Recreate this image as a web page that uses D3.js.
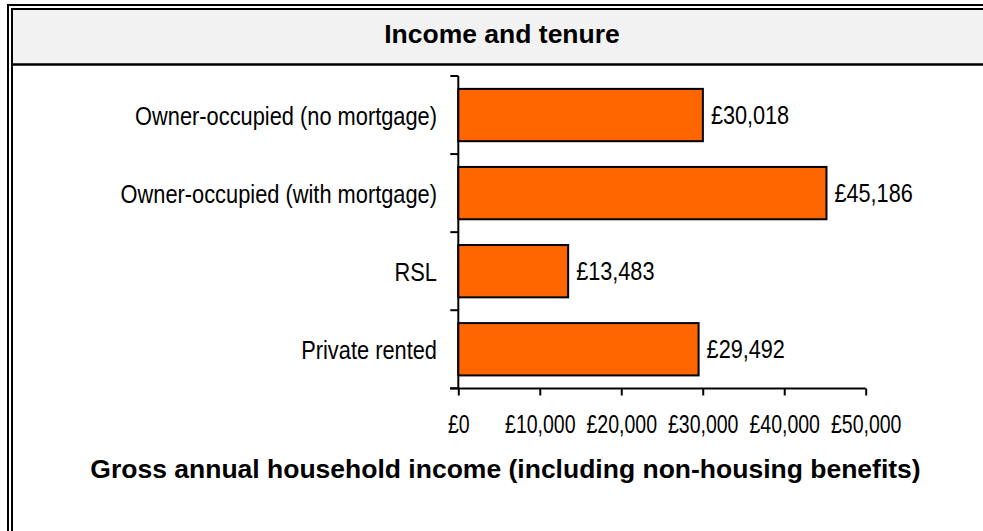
<html>
  <head>
    <title>Income and tenure</title>
    <meta charset="utf-8" />
    <script src="https://cdnjs.cloudflare.com/ajax/libs/d3/7.6.1/d3.min.js"></script>
    <style>
      body {
        margin: 0;
        background: #ffffff;
        overflow: hidden;
      }
      svg {
        display: block;
        font-family: "Liberation Sans", Arial, sans-serif;
      }
    </style>
  </head>
  <body>
    <svg width="983" height="531"></svg>
  </body>

  <script>
    const categories = [
      "Owner-occupied (no mortgage)",
      "Owner-occupied (with mortgage)",
      "RSL",
      "Private rented",
    ];
    const incomes = [30018, 45186, 13483, 29492];
    const xTicks = [0, 10000, 20000, 30000, 40000, 50000];
    const chartTitle = "Income and tenure";
    const xTitle = "Gross annual household income (including non-housing benefits)";

    const svg = d3.select("svg");
    const money = (d) => "£" + d3.format(",")(d);

    // grey header band and double frame (open to the right and bottom, they run off the picture)
    svg.append("rect").attr("x", 12).attr("y", 9).attr("width", 980).attr("height", 55)
      .attr("fill", "#f2f2f2");
    svg.append("path").attr("d", "M8,540V5H990")
      .attr("fill", "none").attr("stroke", "#000").attr("stroke-width", 2);
    svg.append("path").attr("d", "M12,540V9H990")
      .attr("fill", "none").attr("stroke", "#000").attr("stroke-width", 2);
    svg.append("path").attr("d", "M12,64.5H990")
      .attr("fill", "none").attr("stroke", "#000").attr("stroke-width", 2.5);

    svg.append("text").attr("x", 502).attr("y", 43)
      .attr("text-anchor", "middle").attr("font-weight", "bold").attr("font-size", 26.5)
      .text(chartTitle);

    const xScale = d3.scaleLinear().domain([0, 50000]).range([458.3, 865.7]);
    const yScale = d3.scaleBand().domain(categories).range([76, 388.3])
      .paddingInner(0.33).paddingOuter(0.165);

    // horizontal scaling for the narrow regular text
    function squeeze(sel, x, y, sx) {
      sel.attr("transform", `translate(${x},${y}) scale(${sx},1)`);
    }

    // x axis
    const xAxis = d3.axisBottom(xScale).tickValues(xTicks).tickSize(7).tickSizeOuter(0)
      .tickFormat(money);
    const xAxisG = svg.append("g").attr("transform", "translate(0,388.5)").call(xAxis);
    xAxisG.select(".domain").attr("d", `M450,0H${xScale(50000)}`);
    xAxisG.selectAll("path, line").attr("stroke", "#000").attr("stroke-width", 2);
    xAxisG.selectAll("text").attr("font-size", 25).attr("fill", "#000")
      .attr("font-family", "Liberation Sans, Arial, sans-serif")
      .attr("y", 0).attr("dy", 0)
      .each(function () {
        squeeze(d3.select(this), 0, 44, 0.78);
      });

    // y axis with ticks at the category boundaries
    const step = yScale.step();
    const y0 = yScale.range()[0];
    const yAxisG = svg.append("g");
    yAxisG.append("line").attr("x1", xScale(0)).attr("x2", xScale(0))
      .attr("y1", y0).attr("y2", yScale.range()[1])
      .attr("stroke", "#000").attr("stroke-width", 2);
    yAxisG.selectAll("line.tick")
      .data(d3.range(categories.length + 1))
      .join("line").attr("class", "tick")
      .attr("x1", xScale(0) - 8).attr("x2", xScale(0))
      .attr("y1", (i) => y0 + i * step).attr("y2", (i) => y0 + i * step)
      .attr("stroke", "#000").attr("stroke-width", 2);

    svg.selectAll("text.cat")
      .data(categories)
      .join("text").attr("class", "cat")
      .attr("text-anchor", "end").attr("font-size", 25).attr("dy", "0.35em")
      .text((d) => d)
      .each(function (d) {
        squeeze(d3.select(this), 437, yScale(d) + yScale.bandwidth() / 2 + 1, 0.873);
      });

    // bars
    svg.selectAll("rect.bar")
      .data(incomes)
      .join("rect").attr("class", "bar")
      .attr("x", xScale(0))
      .attr("y", (d, i) => yScale(categories[i]))
      .attr("width", (d) => xScale(d) - xScale(0))
      .attr("height", yScale.bandwidth())
      .attr("fill", "#ff6600")
      .attr("stroke", "#000")
      .attr("stroke-width", 2);

    svg.selectAll("text.val")
      .data(incomes)
      .join("text").attr("class", "val")
      .attr("font-size", 25).attr("dy", "0.35em")
      .text(money)
      .each(function (d, i) {
        squeeze(d3.select(this), xScale(d) + 8,
          yScale(categories[i]) + yScale.bandwidth() / 2, 0.867);
      });

    svg.append("text").attr("x", 505.5).attr("y", 477.5)
      .attr("text-anchor", "middle").attr("font-weight", "bold").attr("font-size", 26.5)
      .text(xTitle);
  </script>
</html>
